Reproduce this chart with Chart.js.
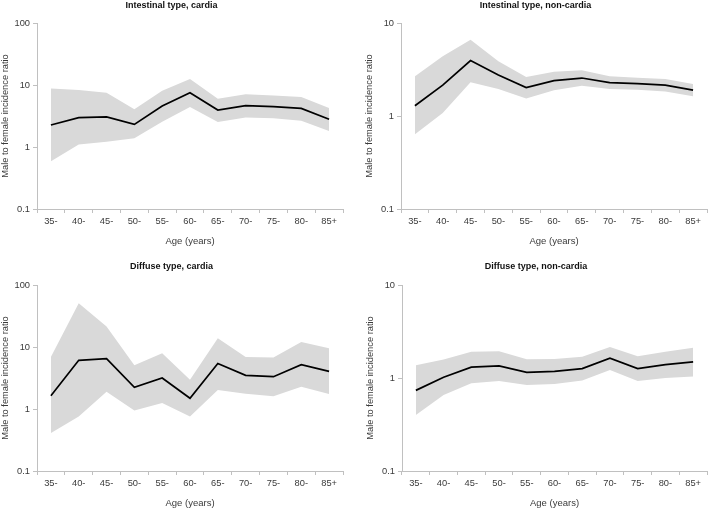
<!DOCTYPE html>
<html>
<head>
<meta charset="utf-8">
<script src="https://cdn.jsdelivr.net/npm/chart.js@4.4.0/dist/chart.umd.min.js"></script>
<style>
  html,body{margin:0;padding:0;background:#fff;width:708px;height:509px;overflow:hidden;}
  canvas{position:absolute;}
</style>
</head>
<body>
<canvas id="c1" width="354" height="254" style="left:0;top:0"></canvas>
<canvas id="c2" width="354" height="254" style="left:354px;top:0"></canvas>
<canvas id="c3" width="354" height="254" style="left:0;top:255px"></canvas>
<canvas id="c4" width="354" height="254" style="left:354px;top:255px"></canvas>
<script>
const ageGroups = ["35-","40-","45-","50-","55-","60-","65-","70-","75-","80-","85+"];

const titles = ["Intestinal type, cardia","Intestinal type, non-cardia","Diffuse type, cardia","Diffuse type, non-cardia"];

// Intestinal type, cardia
const intCardiaRatio = [2.26, 2.97, 3.05, 2.32, 4.58, 7.5, 3.95, 4.64, 4.47, 4.2, 2.8];
const intCardiaLower = [0.59, 1.1, 1.22, 1.38, 2.56, 4.4, 2.53, 3.0, 2.9, 2.66, 1.81];
const intCardiaUpper = [8.8, 8.3, 7.5, 4.05, 8.1, 12.5, 6.0, 7.07, 6.8, 6.4, 4.25];

// Intestinal type, non-cardia
const intNonCardiaRatio = [1.29, 2.15, 3.94, 2.76, 2.02, 2.4, 2.56, 2.28, 2.23, 2.15, 1.9];
const intNonCardiaLower = [0.635, 1.08, 2.3, 1.95, 1.54, 1.89, 2.12, 1.95, 1.92, 1.83, 1.63];
const intNonCardiaUpper = [2.67, 4.38, 6.62, 3.87, 2.63, 3.0, 3.1, 2.67, 2.58, 2.5, 2.21];

// Diffuse type, cardia
const difCardiaRatio = [1.64, 6.1, 6.5, 2.24, 3.16, 1.49, 5.4, 3.49, 3.32, 5.19, 4.05];
const difCardiaLower = [0.41, 0.76, 1.9, 0.95, 1.25, 0.76, 2.03, 1.77, 1.6, 2.29, 1.75];
const difCardiaUpper = [6.9, 51, 21.5, 5.06, 7.9, 2.97, 13.8, 6.9, 6.8, 12.0, 9.5];

// Diffuse type, non-cardia
const difNonCardiaRatio = [0.736, 1.02, 1.31, 1.35, 1.15, 1.18, 1.26, 1.63, 1.26, 1.39, 1.49];
const difNonCardiaLower = [0.40, 0.655, 0.88, 0.93, 0.84, 0.86, 0.94, 1.22, 0.93, 1.0, 1.04];
const difNonCardiaUpper = [1.37, 1.58, 1.92, 1.94, 1.59, 1.6, 1.69, 2.16, 1.71, 1.92, 2.11];

const yTicksCardia = [0.1, 1, 10, 100];
const yTicksNonCardia = [0.1, 1, 10];

const panels = [
  {id:"c1", title:titles[0], r:intCardiaRatio, lo:intCardiaLower, up:intCardiaUpper, ticks:yTicksCardia, padLeft:0, padRight:11, top:true},
  {id:"c2", title:titles[1], r:intNonCardiaRatio, lo:intNonCardiaLower, up:intNonCardiaUpper, ticks:yTicksNonCardia, padLeft:10, padRight:1, top:true},
  {id:"c3", title:titles[2], r:difCardiaRatio, lo:difCardiaLower, up:difCardiaUpper, ticks:yTicksCardia, padLeft:0, padRight:11, top:false},
  {id:"c4", title:titles[3], r:difNonCardiaRatio, lo:difNonCardiaLower, up:difNonCardiaUpper, ticks:yTicksNonCardia, padLeft:11, padRight:1, top:false}
];

const FONT = "'Liberation Sans', Arial, sans-serif";
const axisColor = "#c0c0c0";
const textColor = "#3a3a3a";

panels.forEach(p => {
  new Chart(document.getElementById(p.id), {
    type: "line",
    data: {
      labels: ageGroups,
      datasets: [
        {data: p.r, borderColor: "#000", borderWidth: 1.7, pointRadius: 0, fill: false, tension: 0},
        {data: p.up, borderWidth: 0, borderColor: "rgba(0,0,0,0)", backgroundColor: "#d9d9d9", pointRadius: 0, fill: "+1", tension: 0},
        {data: p.lo, borderWidth: 0, borderColor: "rgba(0,0,0,0)", pointRadius: 0, fill: false, tension: 0}
      ]
    },
    options: {
      responsive: false,
      animation: false,
      devicePixelRatio: 1,
      layout: {padding: {left: p.padLeft, right: p.padRight, top: 0, bottom: p.top ? 7 : 0}},
      plugins: {
        legend: {display: false},
        tooltip: {enabled: false},
        title: {
          display: true,
          text: p.title,
          color: "#111",
          font: {family: FONT, size: 9, weight: "bold"},
          padding: p.top ? {top: 0, bottom: 12.2} : {top: 6.3, bottom: 12.9}
        }
      },
      scales: {
        x: {
          type: "category",
          offset: true,
          grid: {display: true, offset: true, drawOnChartArea: false, drawTicks: true, tickLength: 4, color: axisColor},
          border: {display: true, color: axisColor, width: 1},
          ticks: {color: textColor, font: {family: FONT, size: 9.3}, padding: 3, maxRotation: 0, autoSkip: false},
          title: {display: true, text: "Age (years)", color: textColor, font: {family: FONT, size: 9.5}, padding: 0},
          afterFit: s => { s.height = 38; }
        },
        y: {
          type: "logarithmic",
          min: 0.1,
          max: p.ticks[p.ticks.length - 1],
          afterBuildTicks: s => { s.ticks = p.ticks.map(v => ({value: v})); },
          grid: {display: true, drawOnChartArea: false, drawTicks: true, tickLength: 4, color: axisColor},
          border: {display: true, color: axisColor, width: 1},
          ticks: {color: textColor, font: {family: FONT, size: 9.3}, padding: 3, callback: v => String(v)},
          title: {display: true, text: "Male to female incidence ratio", color: textColor, font: {family: FONT, size: 9.3}, padding: {top: 0, bottom: 0}},
          afterFit: s => { s.width = 37; }
        }
      }
    }
  });
});
</script>
</body>
</html>
